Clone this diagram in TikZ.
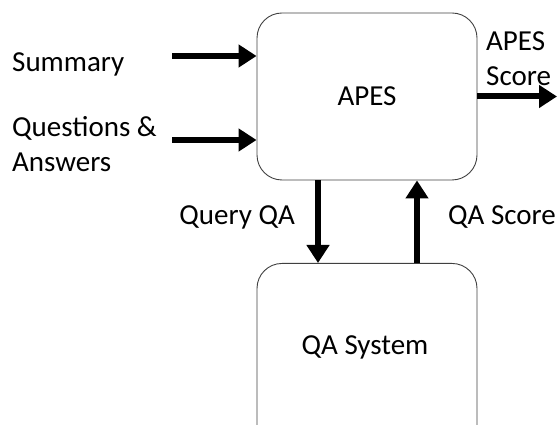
\documentclass[tikz,border=0pt]{standalone}
\usepackage{fontspec}
\setmainfont{Carlito}
\usetikzlibrary{arrows.meta, positioning}

\begin{document}
\begin{tikzpicture}[
  x=1pt, y=1pt,
  blockbox/.style={draw=black!75, line width=0.9pt, rounded corners=25pt, minimum width=220pt, font=\fontsize{29}{35}\selectfont},
  flow/.style={line width=6pt, -{Triangle[length=18pt, width=22pt]}},
  lbl/.style={inner sep=0pt, align=left, font=\fontsize{29}{35}\selectfont}
]
  \useasboundingbox (0,0) rectangle (557,425);
  \clip (0,0) rectangle (557,425);
  % blocks
  \node[blockbox, minimum height=167pt] (apes) at (367, 328.5) {APES};
  \node[blockbox, minimum height=200pt, anchor=north] (qasys) at (367, 162) {};
  \node[lbl, anchor=base] (qasystxt) at (365, 70) {QA System};
  % inputs
  \coordinate (sumin) at (172, 369);
  \coordinate (qain) at (172, 285);
  \draw[flow] (sumin) -- (sumin -| apes.west);
  \draw[flow] (qain) -- (qain -| apes.west);
  \node[lbl, anchor=base west] (sumtxt) at (12, 353) {Summary};
  \node[lbl, anchor=west] (qatxt) at (12, 281) {Questions \&\\Answers};
  % output
  \coordinate (scoreout) at (557, 328.5);
  \draw[flow] (apes.east) -- (scoreout);
  \node[lbl, anchor=west] (scoretxt) at (486, 366) {APES\\Score};
  % between the blocks
  \draw[flow] (apes.south -| 318, 0) -- (qasys.north -| 318, 0);
  \draw[flow] (qasys.north -| 417, 0) -- (apes.south -| 417, 0);
  \node[lbl, anchor=base east] (querytxt) at (295, 200) {Query QA};
  \node[lbl, anchor=base west] (qascoretxt) at (448, 200) {QA Score};
\end{tikzpicture}
\end{document}
